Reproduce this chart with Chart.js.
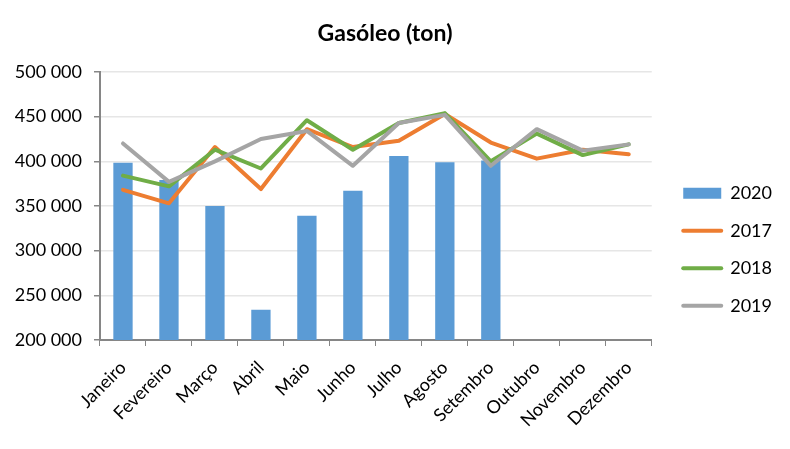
<!DOCTYPE html>
<html>
<head>
<meta charset="utf-8">
<script src="https://cdn.jsdelivr.net/npm/chart.js@4"></script>
<style>
  html, body { margin: 0; padding: 0; background: #fff; }
  #wrap { width: 790px; height: 449px; }
</style>
</head>
<body>
<div id="wrap"><canvas id="c" width="790" height="449"></canvas></div>
<script>
const months = ["Janeiro","Fevereiro","Março","Abril","Maio","Junho","Julho","Agosto","Setembro","Outubro","Novembro","Dezembro"];
const s2020 = [398500, 379000, 350000, 234000, 339000, 367000, 406000, 399000, 401000, null, null, null];
const s2017 = [368000, 353000, 416000, 369000, 436000, 416000, 423000, 453000, 421000, 403000, 413000, 408000];
const s2018 = [384000, 372000, 413000, 392000, 446000, 413000, 443000, 454000, 400000, 431000, 407000, 419000];
const s2019 = [420000, 377000, 400000, 425000, 434000, 395000, 443000, 452000, 395000, 436000, 412000, 419000];
const yTicks = [200000, 250000, 300000, 350000, 400000, 450000, 500000];

const FONT = "Lato";
const fmt = v => String(v).replace(/\B(?=(\d{3})+(?!\d))/g, " ");

const legendShift = {
  id: 'legendShift',
  afterLayout(chart) {
    const lg = chart.legend;
    if (!lg) return;
    const dx = 12, dy = 25;
    lg.left += dx; lg.right += dx;
    lg.top += dy; lg.bottom += dy;
  }
};

const lineDs = (label, data, color, order) => ({
  type: 'line', label, data, borderColor: color, backgroundColor: color,
  borderWidth: 4, pointRadius: 0, tension: 0, order,
  borderJoinStyle: 'round', borderCapStyle: 'round'
});

new Chart(document.getElementById('c'), {
  data: {
    labels: months,
    datasets: [
      lineDs('2017', s2017, '#ED7D31', 3),
      lineDs('2018', s2018, '#70AD47', 2),
      lineDs('2019', s2019, '#A5A5A5', 1),
      { type: 'bar', label: '2020', data: s2020, backgroundColor: '#5B9BD5', borderWidth: 0, categoryPercentage: 1, barPercentage: 0.42, order: 4 }
    ]
  },
  plugins: [legendShift],
  options: {
    responsive: false,
    animation: false,
    layout: { padding: { left: 0, right: 20, top: 0, bottom: 0 } },
    plugins: {
      title: {
        display: true, text: 'Gasóleo (ton)', color: '#000',
        font: { family: FONT, size: 23, weight: 'bold' },
        padding: { top: 20, bottom: 24.4 }
      },
      legend: {
        position: 'right',
        labels: {
          color: '#000',
          font: { family: FONT, size: 18 },
          usePointStyle: true,
          pointStyleWidth: 38,
          boxHeight: 11,
          padding: 19.5,
          generateLabels(chart) {
            const order = [3, 0, 1, 2];
            return order.map(i => {
              const ds = chart.data.datasets[i];
              const isBar = ds.type === 'bar';
              return {
                text: ds.label,
                fillStyle: ds.backgroundColor,
                strokeStyle: isBar ? ds.backgroundColor : ds.borderColor,
                lineWidth: isBar ? 0 : 4,
                lineCap: 'round',
                pointStyle: isBar ? 'rect' : 'line',
                datasetIndex: i,
                hidden: false
              };
            });
          }
        }
      },
      tooltip: { enabled: false }
    },
    scales: {
      x: {
        offset: true,
        afterFit(scale) { scale.height = 109; },
        grid: { display: true, drawOnChartArea: false, drawTicks: true, tickLength: 6, color: '#868686', offset: true },
        border: { display: true, color: '#868686', width: 2 },
        ticks: { color: '#000', font: { family: FONT, size: 18 }, minRotation: 45, maxRotation: 45, padding: 11 }
      },
      y: {
        min: 200000, max: 500000,
        afterFit(scale) { scale.width = 100; },
        afterBuildTicks(scale) { scale.ticks = yTicks.map(v => ({ value: v })); },
        grid: { color: '#E6E6E6', lineWidth: 1.5, tickLength: 6, tickColor: '#868686' },
        border: { display: true, color: '#868686', width: 2 },
        ticks: { color: '#000', font: { family: FONT, size: 18 }, padding: 12, callback: v => fmt(v) }
      }
    }
  }
});
</script>
</body>
</html>
